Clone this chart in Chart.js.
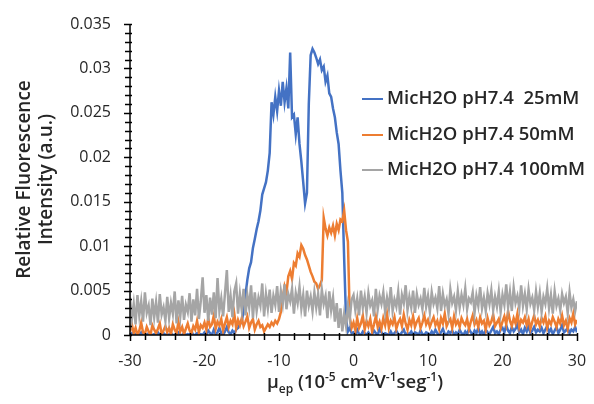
<!DOCTYPE html>
<html>
<head>
<meta charset="utf-8">
<script src="https://cdn.jsdelivr.net/npm/chart.js@4/dist/chart.umd.min.js"></script>
<style>
  body { margin: 0; background: #fff; }
  #wrap { position: relative; width: 594px; height: 404px; font-family: "Open Sans", sans-serif; color: #262626; }
  #xt { position: absolute; left: 160px; width: 390px; top: 368px; text-align: center; font-size: 18.5px; font-weight: 600; }
  #xt sup, #xt sub { font-size: 12px; }
  .lg { position: absolute; left: 362px; font-size: 18.5px; font-weight: 600; white-space: pre; line-height: 22px; }
  .lg span { display: inline-block; width: 21px; height: 2px; vertical-align: middle; margin-right: 4px; }
</style>
</head>
<body>
<div id="wrap">
  <canvas id="myChart" width="594" height="404"></canvas>
  <div class="lg" style="top:86px"><span style="background:#4472C4"></span>MicH2O pH7.4  25mM</div>
  <div class="lg" style="top:122px"><span style="background:#ED7D31"></span>MicH2O pH7.4 50mM</div>
  <div class="lg" style="top:157px"><span style="background:#A5A5A5"></span>MicH2O pH7.4 100mM</div>
  <div id="xt">μ<sub>ep</sub> (10<sup>-5</sup> cm<sup>2</sup>V<sup>-1</sup>seg<sup>-1</sup>)</div>
</div>
<script>
// sampled every 0.25 from -30 to 30
var X_START = -30;
var X_STEP = 0.25;

var blue25 = [
  0, 0.0002, 0, 0.0001, 0, 0, 0.0003, 0, 0.0001, 0, 0.0002, 0, 0, 0.0001, 0, 0.0003, 0, 0, 0.0002, 0,
  0.0001, 0, 0.0002, 0, 0, 0.0001, 0.0003, 0, 0, 0.0002, 0, 0.0001, 0, 0.0004, 0, 0, 0.0002, 0, 0.0001, 0,
  0.0003, 0, 0.0005, 0.0002, 0, 0.0006, 0.0001, 0.0003, 0.0008, 0.0002, 0, 0.0004, 0.0009, 0.0003, 0.0001, 0.0005, 0.0002, 0.0006, 0.0008, 0.0012,
  0.0015, 0.0028, 0.0045, 0.0062, 0.0075, 0.0082, 0.0098, 0.0108, 0.0119, 0.0128, 0.014, 0.0158, 0.0165, 0.0172, 0.0185, 0.0205, 0.0262, 0.0248, 0.0268, 0.0252,
  0.0275, 0.0258, 0.0285, 0.0262, 0.0278, 0.0255, 0.0318, 0.0245, 0.0248, 0.0226, 0.0245, 0.0215, 0.0195, 0.0172, 0.0148, 0.016, 0.026, 0.0315, 0.0322, 0.0318,
  0.0312, 0.0305, 0.031, 0.0298, 0.0302, 0.0285, 0.0292, 0.0272, 0.0268, 0.0255, 0.0245, 0.0228, 0.0215, 0.0185, 0.016, 0.0085, 0.0018, 0.0004, 0.0008, 0.0002,
  0.0003, 0, 0.0006, 0.0001, 0, 0.0004, 0.0002, 0, 0.0003, 0, 0.0001, 0.0005, 0.0002, 0, 0.0007, 0.0003, 0, 0.0002, 0.0001, 0,
  0.0004, 0, 0.0002, 0.0005, 0.0001, 0, 0.0003, 0.0006, 0, 0.0002, 0.0001, 0.0004, 0, 0.0003, 0.0002, 0, 0.0005, 0.0001, 0, 0.0003,
  0.0002, 0, 0.0004, 0.0001, 0.0006, 0.0002, 0, 0.0003, 0.0007, 0.0001, 0, 0.0004, 0.0002, 0.0005, 0, 0.0003, 0.0001, 0.0006, 0.0002, 0,
  0.0004, 0.0001, 0.0007, 0.0003, 0, 0.0005, 0.0002, 0.0008, 0.0001, 0.0004, 0, 0.0006, 0.0003, 0.0001, 0.0005, 0.0009, 0.0002, 0.0004, 0.0001, 0.0006,
  0.0008, 0.0003, 0.0011, 0.0005, 0.0002, 0.0009, 0.0004, 0.0007, 0.0012, 0.0003, 0.0006, 0.0001, 0.0008, 0.0004, 0.001, 0.0002, 0.0005, 0.0009, 0.0003, 0.0006,
  0.0004, 0.0008, 0.0002, 0.0006, 0.001, 0.0003, 0.0007, 0.0001, 0.0005, 0.0009, 0.0002, 0.0006, 0.0011, 0.0003, 0.0005, 0.0008, 0.0002, 0.0006, 0.0004, 0.0009, 0.0003
];

var orange50 = [
  0.0004, 0.0012, 0.0002, 0.0008, 0, 0.0005, 0.0014, 0.0003, 0.0001, 0.0009, 0.0004, 0, 0.0011, 0.0006, 0.0002, 0.0007, 0.0013, 0.0001, 0.0005, 0.001,
  0.0003, 0.0008, 0.0001, 0.0012, 0.0006, 0.0002, 0.0015, 0.0004, 0.0009, 0.0001, 0.0007, 0.0013, 0.0005, 0.0002, 0.001, 0.0006, 0.0016, 0.0003, 0.0011, 0.0008,
  0.0014, 0.0006, 0.0019, 0.0009, 0.0012, 0.0022, 0.0007, 0.0015, 0.0011, 0.0018, 0.0005, 0.0013, 0.002, 0.0009, 0.0016, 0.0012, 0.0024, 0.0008, 0.0017, 0.0011,
  0.0019, 0.001, 0.0015, 0.0021, 0.0008, 0.0014, 0.0018, 0.0006, 0.0012, 0.0016, 0.0009, 0.0011, 0.0004, 0.0008, 0.0012, 0.0009, 0.0014, 0.0011, 0.0016, 0.0013,
  0.0018, 0.0026, 0.0042, 0.0055, 0.0048, 0.0066, 0.0072, 0.0063, 0.0081, 0.0078, 0.0092, 0.0088, 0.0101, 0.0097, 0.009, 0.0085, 0.0078, 0.0071, 0.0066, 0.006,
  0.0058, 0.0052, 0.0056, 0.0062, 0.0132, 0.012, 0.0112, 0.0121, 0.0115, 0.0123, 0.0112, 0.0125, 0.0118, 0.013, 0.0128, 0.014, 0.0118, 0.0105, 0.002, 0.0008,
  0.0014, 0.0005, 0.0019, 0.0008, 0.0013, 0.0022, 0.0006, 0.0016, 0.001, 0.0018, 0.0004, 0.0012, 0.0021, 0.0009, 0.0015, 0.0007, 0.0019, 0.0011, 0.0024, 0.0008,
  0.0016, 0.0012, 0.002, 0.0007, 0.0014, 0.0018, 0.001, 0.0023, 0.0013, 0.0006, 0.0017, 0.0011, 0.0021, 0.0009, 0.0015, 0.0019, 0.0008, 0.0014, 0.0022, 0.0012,
  0.0017, 0.0009, 0.0015, 0.002, 0.0011, 0.0016, 0.0007, 0.0019, 0.0013, 0.0024, 0.001, 0.0015, 0.0018, 0.0008, 0.0021, 0.0012, 0.0016, 0.0009, 0.0019, 0.0014,
  0.0011, 0.0018, 0.0007, 0.0015, 0.0022, 0.0012, 0.0017, 0.0009, 0.002, 0.0013, 0.0016, 0.0006, 0.0019, 0.0011, 0.0015, 0.0023, 0.001, 0.0014, 0.0018, 0.0008,
  0.0015, 0.0021, 0.0012, 0.0027, 0.0016, 0.001, 0.0019, 0.0013, 0.0024, 0.0009, 0.0017, 0.0014, 0.002, 0.0011, 0.0018, 0.0007, 0.0015, 0.0022, 0.0012, 0.0017,
  0.001, 0.0019, 0.0014, 0.0021, 0.0008, 0.0016, 0.0012, 0.002, 0.0015, 0.0009, 0.0018, 0.0013, 0.0022, 0.0011, 0.0016, 0.0007, 0.0019, 0.0014, 0.0024, 0.0012, 0.0017
];

var gray100 = [
  0.0042, 0.0018, 0.0035, 0.0012, 0.0045, 0.0022, 0.0038, 0.0015, 0.0048, 0.0025, 0.0033, 0.0011, 0.0041, 0.002, 0.0037, 0.0014, 0.0046, 0.0023, 0.0031, 0.0016,
  0.0043, 0.0019, 0.0036, 0.0024, 0.0049, 0.0013, 0.0039, 0.0021, 0.0044, 0.0017, 0.0034, 0.0026, 0.0047, 0.0015, 0.004, 0.0022, 0.0052, 0.0018, 0.0038, 0.0065,
  0.0025, 0.0045, 0.0016, 0.0042, 0.0023, 0.0048, 0.0019, 0.0064, 0.0027, 0.0041, 0.0021, 0.0047, 0.0073, 0.0026, 0.0044, 0.002, 0.0049, 0.0058, 0.0024, 0.0046,
  0.0028, 0.0052, 0.0022, 0.0045, 0.0031, 0.0056, 0.0019, 0.0048, 0.0027, 0.0042, 0.0033, 0.0058, 0.0021, 0.0046, 0.003, 0.0051, 0.0025, 0.0044, 0.0034, 0.0055,
  0.0026, 0.0049, 0.0035, 0.0057, 0.0029, 0.0046, 0.0038, 0.0052, 0.0024, 0.0047, 0.0036, 0.0054, 0.003, 0.0045, 0.0021, 0.005, 0.0033, 0.0043, 0.0027, 0.0048,
  0.0031, 0.0046, 0.0022, 0.0051, 0.0035, 0.0044, 0.0019, 0.0049, 0.0028, 0.0042, 0.0015, 0.0036, 0.0008, 0.003, 0.0004, 0.0024, 0.001, 0.0033, 0.0018, 0.004,
  0.0045, 0.0028, 0.0041, 0.0022, 0.005, 0.0031, 0.0043, 0.0025, 0.0047, 0.0033, 0.0039, 0.0021, 0.0052, 0.0029, 0.0044, 0.0035, 0.0048, 0.0026, 0.0042, 0.003,
  0.0054, 0.0027, 0.004, 0.0032, 0.0049, 0.0023, 0.0045, 0.0036, 0.0056, 0.0028, 0.0043, 0.0031, 0.005, 0.0025, 0.0046, 0.0034, 0.0041, 0.0029, 0.0053, 0.0032,
  0.0044, 0.0026, 0.0048, 0.0035, 0.0042, 0.003, 0.0055, 0.0027, 0.0046, 0.0033, 0.004, 0.0024, 0.0051, 0.0036, 0.0043, 0.0028, 0.0049, 0.0031, 0.0045, 0.0034,
  0.0052, 0.0029, 0.0041, 0.0037, 0.0048, 0.0025, 0.0044, 0.0033, 0.0054, 0.003, 0.0042, 0.0027, 0.0047, 0.0035, 0.005, 0.0028, 0.0043, 0.0032, 0.0049, 0.0026,
  0.0045, 0.0034, 0.0057, 0.0031, 0.0048, 0.0027, 0.0053, 0.0036, 0.0044, 0.003, 0.0056, 0.0033, 0.0046, 0.0029, 0.0051, 0.0035, 0.0042, 0.0028, 0.0049, 0.0032,
  0.0047, 0.0026, 0.0043, 0.0035, 0.0052, 0.003, 0.0045, 0.0024, 0.0049, 0.0033, 0.0041, 0.0028, 0.0046, 0.0036, 0.0043, 0.0025, 0.0048, 0.0031, 0.004, 0.0027, 0.0038
];

var seriesNames = ["MicH2O pH7.4  25mM", "MicH2O pH7.4 50mM", "MicH2O pH7.4 100mM"];
var seriesColors = ["#4472C4", "#ED7D31", "#A5A5A5"];

function toPoints(vals) {
  return vals.map(function (v, i) {
    return { x: X_START + i * X_STEP, y: v };
  });
}

// axis lines + excel-like tick marks (major + minor)
var tickMarks = {
  id: "tickMarks",
  afterDraw: function (chart) {
    var ctx = chart.ctx;
    var xs = chart.scales.x, ys = chart.scales.y;
    var area = chart.chartArea;
    ctx.save();
    ctx.strokeStyle = "#000";
    ctx.lineWidth = 1.5;
    ctx.beginPath();
    ctx.moveTo(area.left, area.top);
    ctx.lineTo(area.left, area.bottom);
    ctx.lineTo(area.right, area.bottom);
    ctx.stroke();
    for (var k = 0; k <= 35; k++) {
      var py = Math.round(ys.getPixelForValue(k / 1000)) + 0.5;
      var len = k % 5 === 0 ? 6 : 5;
      ctx.beginPath();
      ctx.moveTo(area.left - len, py);
      ctx.lineTo(area.left + 2, py);
      ctx.stroke();
    }
    for (var j = -30; j <= 30; j += 2) {
      var px = Math.round(xs.getPixelForValue(j)) + 0.5;
      var l2 = j % 10 === 0 ? 6 : 5;
      ctx.beginPath();
      ctx.moveTo(px, area.bottom - 2);
      ctx.lineTo(px, area.bottom + l2);
      ctx.stroke();
    }
    ctx.restore();
  }
};

var ctx = document.getElementById("myChart").getContext("2d");
var chart = new Chart(ctx, {
  type: "line",
  data: {
    datasets: [
      { label: seriesNames[0], data: toPoints(blue25), borderColor: seriesColors[0], order: 3 },
      { label: seriesNames[1], data: toPoints(orange50), borderColor: seriesColors[1], order: 2 },
      { label: seriesNames[2], data: toPoints(gray100), borderColor: seriesColors[2], order: 1 }
    ]
  },
  options: {
    responsive: false,
    devicePixelRatio: 1,
    animation: false,
    layout: { padding: { top: 24, right: 17, left: 0, bottom: 0 } },
    elements: {
      point: { radius: 0 },
      line: { borderWidth: 2.5, tension: 0 }
    },
    plugins: {
      legend: { display: false },
      tooltip: { enabled: false }
    },
    scales: {
      x: {
        type: "linear",
        min: -30,
        max: 30,
        grid: { display: false, drawTicks: false },
        border: { display: false },
        ticks: { stepSize: 10, padding: 17, color: "#262626", font: { family: "Open Sans", size: 16 }, maxRotation: 0 },
        afterFit: function (s) { s.height = 69; s.paddingLeft = 0; s.paddingRight = 0; }
      },
      y: {
        min: 0,
        max: 0.035,
        grid: { display: false, drawTicks: false },
        border: { display: false },
        ticks: {
          stepSize: 0.005,
          padding: 19,
          color: "#262626",
          font: { family: "Open Sans", size: 16 },
          callback: function (v) { return String(Number(v.toFixed(3))); }
        },
        title: {
          display: true,
          text: ["Relative Fluorescence", "Intensity (a.u.)"],
          color: "#262626",
          font: { family: "Open Sans", size: 19, weight: "600", lineHeight: 1.15 },
          padding: { top: 14, bottom: 0 }
        },
        afterFit: function (s) { s.width = 130; s.paddingTop = 0; s.paddingBottom = 0; }
      }
    }
  },
  plugins: [tickMarks]
});
</script>
</body>
</html>
